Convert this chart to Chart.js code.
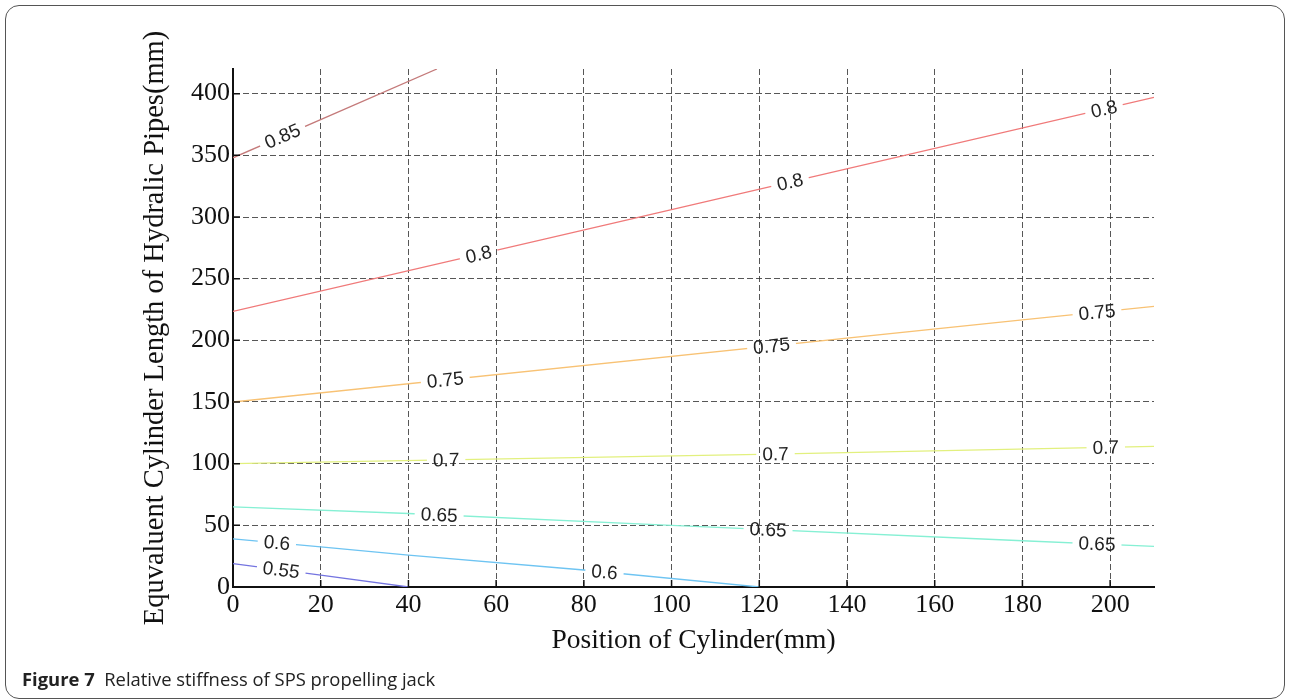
<!DOCTYPE html>
<html><head><meta charset="utf-8">
<script src="https://cdn.jsdelivr.net/npm/chart.js@4.4.0/dist/chart.umd.min.js"></script>
<style>
html,body{margin:0;padding:0;background:#fff;width:1290px;height:699px;overflow:hidden;}
#frame{position:absolute;left:5px;top:5px;width:1280px;height:694px;box-sizing:border-box;border:1.5px solid #555;border-radius:14px;}
#wrap{position:absolute;left:0;top:0;width:1290px;height:699px;}
#cap{position:absolute;left:22px;top:666px;font-family:"Open Sans";font-size:18.4px;color:#222;white-space:pre;}
#cap b{font-weight:700;}
</style></head><body>
<div id="frame"></div>
<div id="wrap"><canvas id="c" width="1290" height="699"></canvas></div>
<div id="cap"><b>Figure 7</b>  Relative stiffness of SPS propelling jack</div>
<script>
// ---- data ----
const xTicks = [0, 20, 40, 60, 80, 100, 120, 140, 160, 180, 200];
const yTicks = [0, 50, 100, 150, 200, 250, 300, 350, 400];
const xTitle = 'Position of Cylinder(mm)';
const yTitle = 'Equvaluent Cylinder Length of Hydralic Pipes(mm)';

const levels = ['0.55', '0.6', '0.65', '0.7', '0.75', '0.8', '0.85'];
const x055 = [0, 20, 40];             const y055 = [19, 9.7, 0];
const x060 = [0, 20, 40, 80, 120];    const y060 = [39, 32.6, 25.9, 13.8, 0];
const x065 = [0, 40, 100, 180, 210];  const y065 = [65, 59.6, 50, 37.5, 33];
const x070 = [0, 120, 210];           const y070 = [100, 107.5, 114];
const x075 = [0, 180, 210];           const y075 = [150, 216.6, 227.5];
const x080 = [0, 100, 210];           const y080 = [223.5, 306, 397];
const x085 = [0, 46.5];               const y085 = [348, 420];
// x positions (data units) where each contour carries its label
const lbl055 = [11];
const lbl060 = [10, 84.7];
const lbl065 = [47, 122, 197];
const lbl070 = [48.6, 123.7, 199];
const lbl075 = [48.4, 122.8, 197];
const lbl080 = [56, 127, 198.6];
const lbl085 = [11.3];

const contourX = [x055, x060, x065, x070, x075, x080, x085];
const contourY = [y055, y060, y065, y070, y075, y080, y085];
const contourLbl = [lbl055, lbl060, lbl065, lbl070, lbl075, lbl080, lbl085];
const colors = ['#7474e0', '#6ec4f2', '#86f0d4', '#e2f07e', '#f8c274', '#f07a7a', '#c47a7a'];

const datasets = levels.map((lv, i) => ({
  label: lv,
  data: contourX[i].map((x, j) => ({x: x, y: contourY[i][j]})),
  borderColor: colors[i],
  borderWidth: 1.3,
  pointRadius: 0,
  fill: false,
  tension: 0
}));

const LBL_FONT = '19px "Liberation Sans", Arial, sans-serif';

function interp(xs, ys, x) {
  for (let k = 0; k < xs.length - 1; k++) {
    if (x >= xs[k] && x <= xs[k + 1]) {
      const t = (x - xs[k]) / (xs[k + 1] - xs[k]);
      return {y: ys[k] + t * (ys[k + 1] - ys[k]), k: k};
    }
  }
  return {y: ys[ys.length - 1], k: xs.length - 2};
}

function labelGeom(chart, i) {
  const xs = chart.scales.x, ys = chart.scales.y;
  const ctx = chart.ctx;
  ctx.save(); ctx.font = LBL_FONT;
  const w = ctx.measureText(levels[i]).width;
  ctx.restore();
  return contourLbl[i].map(lx => {
    const r = interp(contourX[i], contourY[i], lx);
    const k = r.k;
    const p1x = xs.getPixelForValue(contourX[i][k]), p1y = ys.getPixelForValue(contourY[i][k]);
    const p2x = xs.getPixelForValue(contourX[i][k + 1]), p2y = ys.getPixelForValue(contourY[i][k + 1]);
    return {px: xs.getPixelForValue(lx), py: ys.getPixelForValue(r.y),
            ang: Math.atan2(p2y - p1y, p2x - p1x), w: w};
  });
}

const contourPlugin = {
  id: 'contourLabels',
  beforeDatasetDraw(chart, args) {
    const ctx = chart.ctx;
    const g = labelGeom(chart, args.index);
    ctx.save();
    ctx.beginPath();
    ctx.rect(0, 0, chart.width, chart.height);
    g.forEach(o => {
      const hw = o.w / 2 + 6, hh = 10;
      const c = Math.cos(o.ang), s = Math.sin(o.ang);
      const pts = [[-hw, -hh], [hw, -hh], [hw, hh], [-hw, hh]].map(([a, b]) => [o.px + a * c - b * s, o.py + a * s + b * c]);
      ctx.moveTo(pts[0][0], pts[0][1]);
      for (let q = 1; q < 4; q++) ctx.lineTo(pts[q][0], pts[q][1]);
      ctx.closePath();
    });
    ctx.clip('evenodd');
  },
  afterDatasetDraw(chart, args) {
    chart.ctx.restore();
  },
  afterDatasetsDraw(chart) {
    const ctx = chart.ctx;
    levels.forEach((lv, i) => {
      labelGeom(chart, i).forEach(o => {
        ctx.save();
        ctx.translate(o.px, o.py);
        ctx.rotate(o.ang);
        ctx.font = LBL_FONT;
        ctx.fillStyle = '#222';
        ctx.textAlign = 'center';
        ctx.textBaseline = 'middle';
        ctx.fillText(lv, 0, 1);
        ctx.restore();
      });
    });
  },
  afterDraw(chart) {
    const ctx = chart.ctx, a = chart.chartArea;
    ctx.save();
    ctx.strokeStyle = '#111';
    ctx.lineWidth = 1.5;
    ctx.beginPath();
    xTicks.forEach(v => { if (v === 0) return; const p = chart.scales.x.getPixelForValue(v); ctx.moveTo(p, a.bottom); ctx.lineTo(p, a.bottom - 7); });
    yTicks.forEach(v => { if (v === 0) return; const p = chart.scales.y.getPixelForValue(v); ctx.moveTo(a.left, p); ctx.lineTo(a.left + 7, p); });
    ctx.stroke();
    ctx.restore();
  }
};

const SERIF = '"Liberation Serif", "Times New Roman", serif';
const tickFont = {family: SERIF, size: 26};

new Chart(document.getElementById('c'), {
  type: 'line',
  data: {datasets: datasets},
  plugins: [contourPlugin],
  options: {
    responsive: false,
    animation: false,
    events: [],
    layout: {padding: {left: 138, top: 69, right: 136, bottom: 41.4}},
    plugins: {legend: {display: false}, tooltip: {enabled: false}},
    scales: {
      x: {
        type: 'linear', min: 0, max: 210,
        afterBuildTicks: s => { s.ticks = xTicks.map(v => ({value: v})); },
        afterFit: s => { s.height = 70.6; },
        ticks: {color: '#111', font: tickFont, padding: 3, maxRotation: 0, autoSkip: false},
        grid: {color: 'rgba(45,45,45,0.8)', lineWidth: 1, drawTicks: false},
        border: {display: true, color: '#111', width: 2, dash: [6, 3]},
        title: {display: true, text: xTitle, color: '#111', font: {family: SERIF, size: 27.5}, padding: {top: 0, bottom: 0}}
      },
      y: {
        type: 'linear', min: 0, max: 420,
        afterBuildTicks: s => { s.ticks = yTicks.map(v => ({value: v})); },
        afterFit: s => { s.width = 95; },
        ticks: {color: '#111', font: tickFont, padding: 3, autoSkip: false},
        grid: {color: 'rgba(45,45,45,0.8)', lineWidth: 1, drawTicks: false},
        border: {display: true, color: '#111', width: 2, dash: [6, 3]},
        title: {display: true, text: yTitle, color: '#111', font: {family: SERIF, size: 28.5}, padding: {top: 0, bottom: 0}}
      }
    }
  }
});
</script>
</body></html>
